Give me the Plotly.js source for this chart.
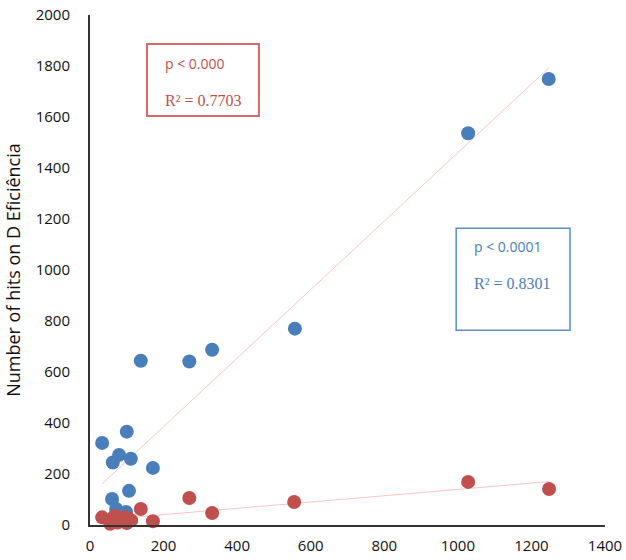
<!DOCTYPE html>
<html>
<head>
<meta charset="utf-8">
<script src="https://cdn.plot.ly/plotly-3.0.1.min.js"></script>
<style>html,body{margin:0;padding:0;background:#fff;}#chart{width:626px;height:560px;}</style>
</head>
<body>
<div id="chart"></div>
<script>
// Blue series (hits on D Eficiência)
const blueX = [33, 100, 79, 62, 111, 171, 106, 60, 71, 98, 85, 138, 270, 332, 557, 1028, 1247];
const blueY = [322, 366, 275, 245, 260, 224, 134, 102, 63, 51, 30, 644, 641, 687, 770, 1536, 1749];
// Red series
const redX = [33, 55, 62, 68, 75, 80, 88, 95, 100, 105, 112, 138, 171, 270, 332, 555, 1028, 1248];
const redY = [30, 5, 28, 35, 10, 22, 15, 30, 8, 25, 18, 63, 15, 106, 47, 90, 169, 141];

const xTicks = [0, 200, 400, 600, 800, 1000, 1200, 1400];
const yTicks = [0, 200, 400, 600, 800, 1000, 1200, 1400, 1600, 1800, 2000];

const redStats = ["p < 0.000", "R² = 0.7703"];
const blueStats = ["p < 0.0001", "R² = 0.8301"];

function fit(xs, ys) {
  const n = xs.length;
  const mx = xs.reduce((a, b) => a + b, 0) / n;
  const my = ys.reduce((a, b) => a + b, 0) / n;
  let sxy = 0, sxx = 0;
  for (let i = 0; i < n; i++) { sxy += (xs[i] - mx) * (ys[i] - my); sxx += (xs[i] - mx) ** 2; }
  const b = sxy / sxx, a = my - b * mx;
  const x0 = Math.min(...xs), x1 = Math.max(...xs);
  return { x: [x0, x1], y: [a + b * x0, a + b * x1] };
}
const bf = fit(blueX, blueY);
const rf = fit(redX, redY);

const BLUE = '#4a7ebb', RED = '#c0504d';

const traces = [
  { x: bf.x, y: bf.y, mode: 'lines', line: { color: '#ffc4c4', width: 1 }, hoverinfo: 'skip', showlegend: false },
  { x: rf.x, y: rf.y, mode: 'lines', line: { color: '#ffc4c4', width: 1 }, hoverinfo: 'skip', showlegend: false },
  { x: blueX, y: blueY, mode: 'markers', marker: { color: BLUE, size: 14 }, cliponaxis: false, showlegend: false },
  { x: redX, y: redY, mode: 'markers', marker: { color: RED, size: 14 }, cliponaxis: false, showlegend: false }
];

const sans = 'Open Sans, Liberation Sans, Arial, sans-serif';
const serif = 'Liberation Serif, Times New Roman, serif';
const tickFont = { family: sans, size: 15, color: '#111' };

const layout = {
  width: 626, height: 560,
  margin: { l: 90, r: 21, t: 15, b: 35 },
  paper_bgcolor: '#fff', plot_bgcolor: '#fff',
  showlegend: false,
  xaxis: {
    range: [0, 1400], tickvals: xTicks, ticktext: xTicks.map(String),
    showgrid: false, zeroline: false, showline: true, linecolor: '#333', linewidth: 2,
    ticks: '', tickfont: tickFont, ticklabelstandoff: 6, fixedrange: true
  },
  yaxis: {
    range: [0, 2000], tickvals: yTicks, ticktext: yTicks.map(String),
    showgrid: false, zeroline: false, showline: true, linecolor: '#333', linewidth: 2,
    ticks: '', tickfont: tickFont, ticklabelstandoff: 15, fixedrange: true,
    title: { text: 'Number of hits on D Eficiência', font: { family: sans, size: 18, color: '#111' }, standoff: 10 }
  },
  shapes: [
    { type: 'rect', xref: 'paper', yref: 'paper', x0: 0.1107, x1: 0.328, y0: 0.802, y1: 0.943, line: { color: '#d46a6a', width: 2 }, fillcolor: 'rgba(0,0,0,0)' },
    { type: 'rect', xref: 'paper', yref: 'paper', x0: 0.711, x1: 0.932, y0: 0.382, y1: 0.582, line: { color: '#5b8cc8', width: 1.5 }, fillcolor: 'rgba(0,0,0,0)' }
  ],
  annotations: [
    { xref: 'paper', yref: 'paper', x: 0.1417, y: 0.904, xanchor: 'left', yanchor: 'middle', showarrow: false, text: redStats[0], font: { family: sans, size: 14, color: RED } },
    { xref: 'paper', yref: 'paper', x: 0.1417, y: 0.833, xanchor: 'left', yanchor: 'middle', showarrow: false, text: redStats[1], font: { family: serif, size: 16, color: RED } },
    { xref: 'paper', yref: 'paper', x: 0.7417, y: 0.547, xanchor: 'left', yanchor: 'middle', showarrow: false, text: blueStats[0], font: { family: sans, size: 14, color: BLUE } },
    { xref: 'paper', yref: 'paper', x: 0.7417, y: 0.4745, xanchor: 'left', yanchor: 'middle', showarrow: false, text: blueStats[1], font: { family: serif, size: 16, color: BLUE } }
  ]
};

Plotly.newPlot('chart', traces, layout, { displayModeBar: false, staticPlot: true });
</script>
</body>
</html>
